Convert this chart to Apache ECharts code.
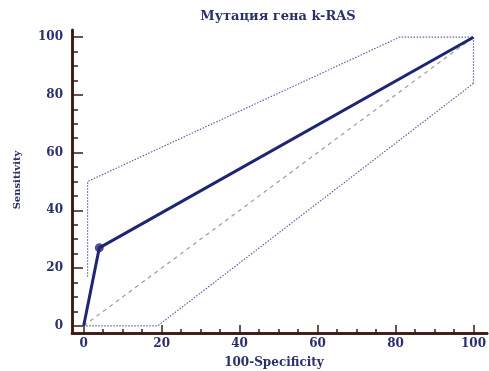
<!DOCTYPE html>
<html><head><meta charset="utf-8">
<script src="https://cdn.jsdelivr.net/npm/echarts@6/dist/echarts.min.js"></script>
<style>html,body{margin:0;padding:0;background:#fff}#c{width:489px;height:371px}</style>
</head><body><div id="c"></div>
<script>
const titleText = 'Мутация гена k-RAS';
const xName = '100-Specificity';
const yName = 'Sensitivity';
const majorTicks = [0, 20, 40, 60, 80, 100];
const minorTicks = [0,5,10,15,20,25,30,35,40,45,50,55,60,65,70,75,80,85,90,95,100];
const rocCurve = [[0, 0], [4, 27], [100, 100]];
const rocPoint = [[4, 27]];
const upperCI = [[1, 17], [1, 50], [81, 100], [100, 100], [100, 84]];
const lowerCI = [[100, 84], [19, 0], [0, 0]];
const diagonal = [[0, 0], [100, 100]];

const navy = '#1f2575';
const axisCol = '#3b1a12';
const labelFont = {color: '#2b2f6b', fontFamily: 'DejaVu Serif', fontWeight: 'bold', fontSize: 12};

function xAx(ticks, len, show) {
  return {type: 'value', min: -3, max: 103.5, position: 'bottom',
    axisLine: {show: true, onZero: false, lineStyle: {color: axisCol, width: 2.5}},
    axisTick: {show: true, inside: true, length: len, customValues: ticks, lineStyle: {color: axisCol, width: 1.5}},
    axisLabel: show ? Object.assign({customValues: majorTicks, margin: 5}, labelFont) : {show: false},
    splitLine: {show: false}};
}
function yAx(ticks, len, show) {
  return {type: 'value', min: -2.5, max: 102.5, position: 'left',
    axisLine: {show: true, onZero: false, lineStyle: {color: axisCol, width: 2.5}},
    axisTick: {show: true, inside: true, length: len, customValues: ticks, lineStyle: {color: axisCol, width: 1.5}},
    axisLabel: show ? Object.assign({customValues: majorTicks, margin: 9}, labelFont) : {show: false},
    splitLine: {show: false}};
}

const chart = echarts.init(document.getElementById('c'));
chart.setOption({
  animation: false,
  grid: {left: 72, right: 0, top: 30, bottom: 38, containLabel: false},
  xAxis: [xAx(majorTicks, 8, true), xAx(minorTicks, 4, false)],
  yAxis: [yAx(majorTicks, 11, true), yAx(minorTicks, 6, false)],
  graphic: [
    {type: 'text', x: 278, y: 17, style: {text: titleText, fill: '#2b2f6b', font: 'bold 13px "DejaVu Serif"', align: 'center', verticalAlign: 'middle'}},
    {type: 'text', x: 274, y: 363, style: {text: xName, fill: '#2b2f6b', font: 'bold 12px "DejaVu Serif"', align: 'center', verticalAlign: 'middle'}},
    {type: 'text', x: 17, y: 180, rotation: Math.PI / 2, style: {text: yName, fill: '#2b2f6b', font: 'bold 10px "DejaVu Serif"', align: 'center', verticalAlign: 'middle'}}
  ],
  series: [
    {type: 'line', data: diagonal, symbol: 'none', lineStyle: {color: '#9a9aa8', width: 1.2, type: [4, 4]}, z: 1},
    {type: 'line', data: upperCI, symbol: 'none', lineStyle: {color: '#6064a8', width: 1.2, type: [1.5, 1.5]}, z: 2},
    {type: 'line', data: lowerCI, symbol: 'none', lineStyle: {color: '#6064a8', width: 1.2, type: [1.5, 1.5]}, z: 2},
    {type: 'line', data: rocCurve, symbol: 'none', lineStyle: {color: navy, width: 3}, z: 3},
    {type: 'scatter', data: rocPoint, symbol: 'circle', symbolSize: 9, itemStyle: {color: navy}, z: 4}
  ]
});
</script></body></html>
